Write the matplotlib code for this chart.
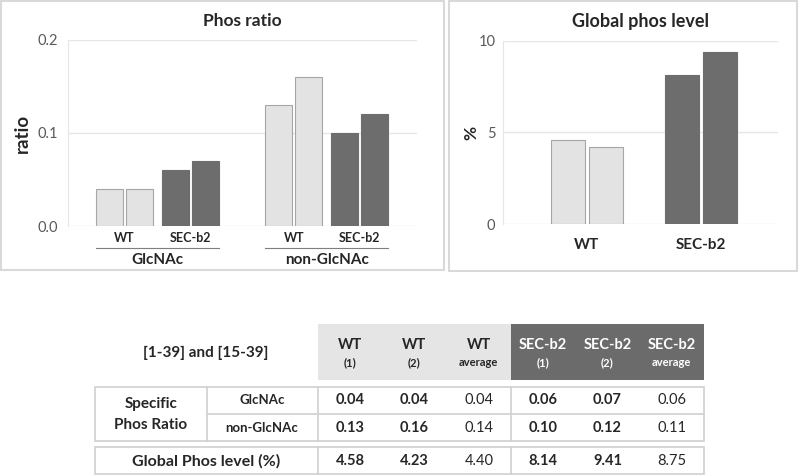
import matplotlib
matplotlib.use('Agg')
import matplotlib.pyplot as plt
from matplotlib.patches import Rectangle

# values
groups = ['GlcNAc', 'non-GlcNAc']
conditions = ['WT', 'SEC-b2']
glcnac_wt = [0.04, 0.04]
glcnac_sec = [0.06, 0.07]
nonglcnac_wt = [0.13, 0.16]
nonglcnac_sec = [0.10, 0.12]
global_wt = [4.58, 4.23]
global_sec = [8.14, 9.41]
avg_glcnac = [0.04, 0.06]
avg_nonglcnac = [0.14, 0.11]
avg_global = [4.40, 8.75]
header_top = ['WT', 'WT', 'WT', 'SEC-b2', 'SEC-b2', 'SEC-b2']
header_sub = ['(1)', '(2)', 'average', '(1)', '(2)', 'average']

LIGHT = '#e3e3e3'
LIGHT_EDGE = '#a6a6a6'
DARK = '#6d6d6d'
GRID = '#e6e6e6'
TXT = '#262626'
TICK = '#595959'
BORDER = '#d9d9d9'

plt.rcParams['font.family'] = ['Lato', 'DejaVu Sans']

fig = plt.figure(figsize=(8, 4.76), dpi=100)
W, H = 800, 476

# overlay in pixel units for panels and table
ov = fig.add_axes([0, 0, 1, 1], zorder=0)
ov.set_xlim(0, W)
ov.set_ylim(H, 0)
ov.axis('off')


def px_axes(x0, y0, x1, y1):
    return fig.add_axes([x0 / W, 1 - y1 / H, (x1 - x0) / W, (y1 - y0) / H], zorder=2)


def style(ax):
    ax.set_facecolor('none')
    for s in ['top', 'right', 'bottom']:
        ax.spines[s].set_visible(False)
    ax.spines['left'].set_color(GRID)
    ax.grid(axis='y', color=GRID, lw=1)
    ax.set_axisbelow(True)
    ax.tick_params(axis='y', length=0, colors=TICK, labelsize=10.5)
    ax.tick_params(axis='x', length=0)


# panel borders
ov.add_patch(Rectangle((1, 1), 443, 269, fill=False, ec=BORDER, lw=1.5))
ov.add_patch(Rectangle((449, 1), 348, 270, fill=False, ec=BORDER, lw=1.5))

# ---- left chart: phos ratio
ax1 = px_axes(68, 40, 417, 226)
style(ax1)
bw = 0.9
goff = 5.65
series = [(glcnac_wt, glcnac_sec), (nonglcnac_wt, nonglcnac_sec)]
tr = ax1.get_xaxis_transform()
for g, (wt, sec) in enumerate(series):
    base = g * goff
    ax1.bar([base, base + 1], wt, width=bw, color=LIGHT, ec=LIGHT_EDGE, lw=0.8)
    ax1.bar([base + 2.2, base + 3.2], sec, width=bw, color=DARK, ec=DARK, lw=0.8)
    ax1.text(base + 0.5, -0.065, conditions[0], transform=tr, ha='center', va='center',
             fontsize=9, fontweight='bold', color=TXT)
    ax1.text(base + 2.7, -0.065, conditions[1], transform=tr, ha='center', va='center',
             fontsize=9, fontweight='bold', color=TXT)
    ax1.plot([base - 0.45, base + 3.65], [-0.118, -0.118], transform=tr, color='#7f7f7f',
             lw=0.8, clip_on=False)
    ax1.text(base + 1.6, -0.183, groups[g], transform=tr, ha='center', va='center',
             fontsize=11, fontweight='bold', color=TXT)
ax1.set_xlim(-1.38, 10.25)
ax1.set_ylim(0, 0.2)
ax1.set_yticks([0.0, 0.1, 0.2])
ax1.set_yticklabels(['0.0', '0.1', '0.2'])
ax1.tick_params(axis='y', pad=7)
ax1.set_xticks([])

ov.text(242, 21, 'Phos ratio', ha='center', va='center', fontsize=12.5, fontweight='bold', color=TXT)
ov.text(22, 133, 'ratio', ha='center', va='center', rotation=90, fontsize=13.5,
        fontweight='bold', color=TXT)

# ---- right chart: global phos level
ax2 = px_axes(503, 41, 778, 224)
style(ax2)
bw2 = 0.895
ax2.bar([0, 1], global_wt, width=bw2, color=LIGHT, ec=LIGHT_EDGE, lw=0.8)
ax2.bar([3, 4], global_sec, width=bw2, color=DARK, ec=DARK, lw=0.8)
ax2.set_xlim(-1.71, 5.53)
ax2.set_ylim(0, 10)
ax2.set_yticks([0, 5, 10])
ax2.tick_params(axis='y', pad=5.5)
ax2.set_xticks([0.5, 3.5])
ax2.set_xticklabels(conditions, fontsize=11, fontweight='bold', color=TXT)
ax2.tick_params(axis='x', pad=10)

ov.text(641, 22, 'Global phos level', ha='center', va='center', fontsize=13,
        fontweight='bold', color=TXT)
ov.text(471, 133, '%', ha='center', va='center', rotation=90, fontsize=12.5,
        fontweight='bold', color=TXT)

# ---- table
cx0, cw = 318, 64.33
lx0, ldiv = 95, 207
rx1 = cx0 + 6 * cw
cell_ec = '#d0d0d0'

ov.add_patch(Rectangle((cx0, 324), 3 * cw, 56, fc='#e5e5e5', ec='none'))
ov.add_patch(Rectangle((cx0 + 3 * cw, 324), 3 * cw, 56, fc='#6b6b6b', ec='none'))
for i in range(6):
    xc = cx0 + (i + 0.5) * cw
    col = TXT if i < 3 else 'white'
    ov.text(xc, 345, header_top[i], ha='center', va='center', fontsize=10.5,
            fontweight='bold', color=col)
    ov.text(xc, 363, header_sub[i], ha='center', va='center', fontsize=8,
            fontweight='bold', color=col)
ov.text(206, 353, '[1-39] and [15-39]', ha='center', va='center', fontsize=11,
        fontweight='bold', color=TXT)

# boxes
ov.add_patch(Rectangle((lx0, 387), rx1 - lx0, 54, fill=False, ec=cell_ec, lw=1.2))
ov.add_patch(Rectangle((lx0, 447), rx1 - lx0, 27, fill=False, ec=cell_ec, lw=1.2))
ov.plot([ldiv, rx1], [414, 414], color=cell_ec, lw=1.2)
ov.plot([ldiv, ldiv], [387, 441], color=cell_ec, lw=1.2)
for xv in [cx0, cx0 + 3 * cw]:
    ov.plot([xv, xv], [387, 441], color=cell_ec, lw=1.2)
    ov.plot([xv, xv], [447, 474], color=cell_ec, lw=1.2)

ov.text(151, 404, 'Specific', ha='center', va='center', fontsize=11, fontweight='bold', color=TXT)
ov.text(151, 425, 'Phos Ratio', ha='center', va='center', fontsize=11, fontweight='bold', color=TXT)
ov.text(262, 400, groups[0], ha='center', va='center', fontsize=9.5, fontweight='bold', color=TXT)
ov.text(262, 428, groups[1], ha='center', va='center', fontsize=9.5, fontweight='bold', color=TXT)
ov.text(206, 461, 'Global Phos level (%)', ha='center', va='center', fontsize=11.5,
        fontweight='bold', color=TXT)

rows = [
    (400, glcnac_wt + avg_glcnac[:1] + glcnac_sec + avg_glcnac[1:]),
    (428, nonglcnac_wt + avg_nonglcnac[:1] + nonglcnac_sec + avg_nonglcnac[1:]),
    (461, global_wt + avg_global[:1] + global_sec + avg_global[1:]),
]
for yc, vals in rows:
    for i, v in enumerate(vals):
        avg = i in (2, 5)
        ov.text(cx0 + (i + 0.5) * cw, yc, '{:.2f}'.format(v), ha='center', va='center',
                fontsize=10.5, fontweight='normal' if avg else 'bold', color=TXT)

fig.savefig('out.png', dpi=100)
